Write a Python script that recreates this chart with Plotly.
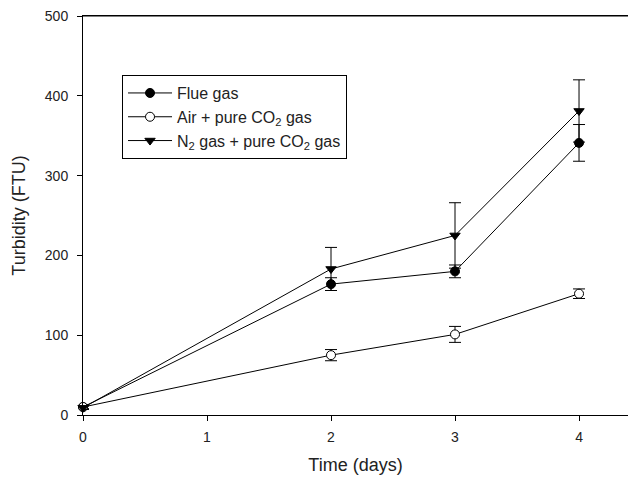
import plotly.graph_objects as go

days = [0, 2, 3, 4]
flue = [10, 164, 180, 341]
flue_err = [3, 8, 8, 23]
air = [10, 75, 101, 152]
air_err = [2, 7, 10, 6]
n2 = [9, 183, 225, 381]
n2_err = [2, 27, 41, 39]

names = ["Flue gas", "Air + pure CO<sub>2</sub> gas", "N<sub>2</sub> gas + pure CO<sub>2</sub> gas"]

fig = go.Figure()

def add(y, err, name, symbol, fill):
    fig.add_trace(go.Scatter(
        x=days, y=y, name=name, mode="lines+markers",
        line=dict(color="black", width=1),
        marker=dict(symbol=symbol, size=9, color=fill, line=dict(color="black", width=1)),
        error_y=dict(type="data", array=err, visible=True, color="black", thickness=1, width=6),
        cliponaxis=False,
    ))

add(flue, flue_err, names[0], "circle", "black")
add(air, air_err, names[1], "circle", "white")
add(n2, n2_err, names[2], "triangle-down", "black")

# page body has an 8px margin: figure sized to fit the 636x484 window exactly
fig.update_layout(
    width=620, height=468,
    margin=dict(l=75, r=0, t=8, b=61),
    plot_bgcolor="white", paper_bgcolor="white",
    font=dict(family="Liberation Sans, Arial, sans-serif", size=14, color="#222"),
    showlegend=True,
    legend=dict(x=0.0716, y=0.852, xanchor="left", yanchor="top",
                bordercolor="black", borderwidth=1, bgcolor="white",
                font=dict(size=16, color="#222"), tracegroupgap=0, itemwidth=44),
    shapes=[dict(type="line", xref="paper", yref="paper", x0=0, x1=1, y0=1, y1=1,
                 line=dict(color="black", width=1), layer="above")],
)
fig.update_xaxes(range=[0, 4.395], tickvals=[0, 1, 2, 3, 4], showline=True, linecolor="black",
                 linewidth=1, mirror=True, ticks="outside", ticklen=5, tickcolor="black",
                 showgrid=False, zeroline=False, automargin=False, ticklabeloverflow="allow",
                 tickfont=dict(size=14), ticklabelstandoff=4,
                 title=dict(text="Time (days)", font=dict(size=18), standoff=14))
fig.update_yaxes(range=[0, 500], tickvals=[0, 100, 200, 300, 400, 500], showline=True,
                 linecolor="black", linewidth=1, ticks="outside", ticklen=5, tickcolor="black",
                 showgrid=False, zeroline=False, automargin=False, ticklabeloverflow="allow",
                 tickfont=dict(size=14), ticklabelstandoff=6,
                 title=dict(text="Turbidity (FTU)", font=dict(size=18), standoff=14))

fig.write_html("out.html")
